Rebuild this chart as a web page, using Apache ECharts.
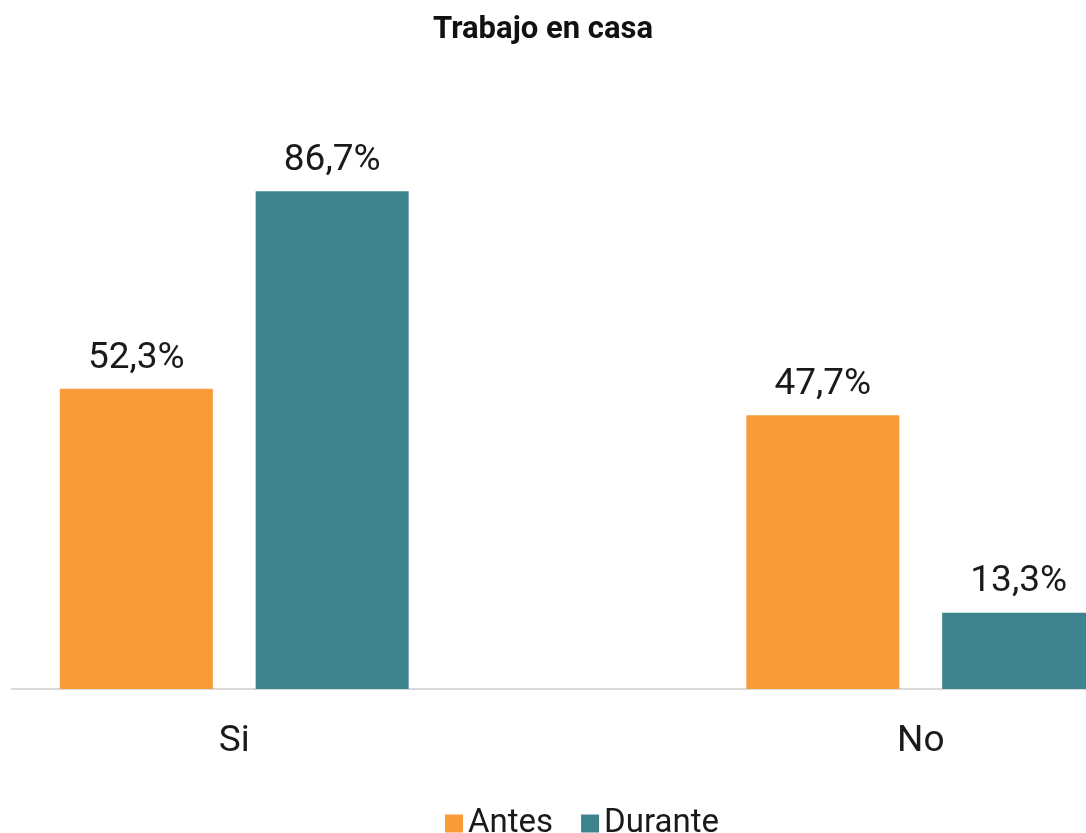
<!DOCTYPE html>
<html><head><meta charset="utf-8">
<script src="https://cdn.jsdelivr.net/npm/echarts@6/dist/echarts.min.js"></script>
<style>html,body{margin:0;padding:0;background:#fff}#c{width:1086px;height:833px}</style>
</head><body><div id="c"></div>
<script>
const title = 'Trabajo en casa';
const categories = ['Si', 'No'];
const seriesNames = ['Antes', 'Durante'];
const antes = [52.3, 47.7];
const durante = [86.7, 13.3];
const colors = ['#F99B38', '#3D848E'];

const chart = echarts.init(document.getElementById('c'));
const fmt = p => p.value.toFixed(1).replace('.', ',') + '%';
const labelStyle = {show: true, position: 'top', distance: 12, formatter: fmt, fontFamily: 'Roboto', fontSize: 37, color: '#1a1a1a'};
const gridTop = 115, gridBottom = 144;
chart.setOption({
  animation: false,
  title: {text: title, left: 'center', top: 10, textStyle: {fontFamily: 'Roboto', fontWeight: 'bold', fontSize: 31, color: '#111'}},
  legend: {top: 802, left: 440, itemWidth: 18, itemHeight: 18, itemGap: 28, itemTextGap: 12, icon: 'rect',
    textStyle: {fontFamily: 'Roboto', fontSize: 33, color: '#1a1a1a'}},
  grid: {left: -109, width: 1373, top: gridTop, bottom: gridBottom, outerBoundsMode: 'none', containLabel: false},
  xAxis: {type: 'category', data: categories, axisLine: {show: false}, axisTick: {show: false},
    axisLabel: {fontFamily: 'Roboto', fontSize: 37, color: '#1a1a1a', margin: 34}},
  yAxis: {type: 'value', min: 0, max: 100, show: false, splitLine: {show: false}},
  graphic: [{type: 'line', shape: {x1: 11, y1: 833 - gridBottom, x2: 1086, y2: 833 - gridBottom}, style: {stroke: '#d9d9d9', lineWidth: 2}}],
  series: [
    {name: seriesNames[0], type: 'bar', data: antes, barWidth: 153, barGap: '28%', itemStyle: {color: colors[0]}, label: labelStyle},
    {name: seriesNames[1], type: 'bar', data: durante, barWidth: 153, itemStyle: {color: colors[1]}, label: labelStyle}
  ]
});
</script></body></html>
